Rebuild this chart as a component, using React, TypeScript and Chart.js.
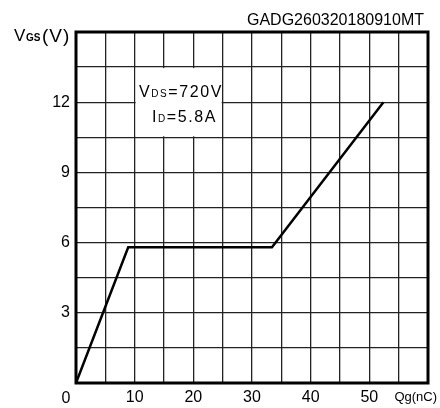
import React, { useEffect, useRef } from "react";
import { Chart, registerables } from "chart.js";

Chart.register(...registerables);

const qg = [0, 8.9, 33.4, 52.4];
const vgs = [0, 5.8, 5.8, 12];
const xTickLabels = [10, 20, 30, 40, 50];
const yTickLabels = [3, 6, 9, 12];
const title = "GADG260320180910MT";

const FONT = "'Liberation Sans', Arial, sans-serif";

const overlay = {
  id: "overlay",
  afterDatasetsDraw(chart: any) {
    const ctx = chart.ctx;
    const a = chart.chartArea;
    const xs = chart.scales.x;
    const ys = chart.scales.y;
    ctx.save();
    // annotation box
    const bx1 = xs.getPixelForValue(10);
    const bx2 = xs.getPixelForValue(25);
    const by1 = ys.getPixelForValue(13.5);
    const by2 = ys.getPixelForValue(10.5);
    ctx.fillStyle = "#fff";
    ctx.fillRect(bx1 + 1, by1 + 1, bx2 - bx1 - 2, by2 - by1 - 2);
    ctx.fillStyle = "#000";
    ctx.textBaseline = "alphabetic";
    ctx.textAlign = "left";
    const drawSub = (
      x: number, y: number, main: string, sub: string, rest: string,
      big = 16, small = 10, restSize = big, spacing = "0px"
    ) => {
      (ctx as any).letterSpacing = spacing;
      ctx.font = `${big}px ${FONT}`;
      ctx.fillText(main, x, y);
      let w = ctx.measureText(main).width;
      ctx.font = `${small}px ${FONT}`;
      ctx.fillText(sub, x + w, y);
      w += ctx.measureText(sub).width;
      ctx.font = `${restSize}px ${FONT}`;
      ctx.fillText(rest, x + w, y);
      (ctx as any).letterSpacing = "0px";
    };
    drawSub(139, 97, "V", "DS", "=720V", 16, 10, 16, "1.6px");
    drawSub(152, 122, "I", "D", "=5.8A", 16, 10, 16, "1.6px");
    // axis title
    ctx.font = `17px ${FONT}`;
    ctx.fillText("V", 14, 41);
    ctx.font = `bold 10px ${FONT}`;
    ctx.fillText("GS", 26, 41);
    ctx.font = `19px ${FONT}`;
    (ctx as any).letterSpacing = "1px";
    ctx.fillText("(V)", 42, 42);
    (ctx as any).letterSpacing = "0px";
    // title
    ctx.font = `16px ${FONT}`;
    ctx.textAlign = "right";
    ctx.fillText(title, 424, 25);
    // zero
    ctx.textAlign = "center";
    ctx.fillText("0", 66, 403);
    // x axis title
    ctx.font = `13px ${FONT}`;
    ctx.textAlign = "right";
    ctx.fillText("Qg(nC)", 437, 401);
    // frame
    ctx.strokeStyle = "#000";
    ctx.lineWidth = 3;
    ctx.strokeRect(a.left, a.top, a.right - a.left, a.bottom - a.top);
    ctx.restore();
  },
};

export default function App() {
  const ref = useRef<HTMLCanvasElement>(null);
  useEffect(() => {
    document.body.style.margin = "0";
    const chart = new Chart(ref.current!, {
      type: "line",
      data: {
        datasets: [
          {
            data: qg.map((x, i) => ({ x, y: vgs[i] })),
            borderColor: "#000",
            borderWidth: 2.5,
            pointRadius: 0,
            tension: 0,
          },
        ],
      },
      options: {
        animation: false,
        responsive: false,
        layout: { padding: { top: 32, right: 12, left: 0, bottom: 0 } },
        plugins: { legend: { display: false }, tooltip: { enabled: false } },
        scales: {
          x: {
            type: "linear",
            min: 0,
            max: 60,
            afterFit: (s: any) => { s.height = 25; },
            ticks: {
              stepSize: 5,
              autoSkip: false,
              maxRotation: 0,
              padding: 5,
              color: "#000",
              font: { size: 16, family: FONT },
              callback: (v: any) => (xTickLabels.includes(Number(v)) ? String(v) : ""),
            },
            grid: { color: "#222", lineWidth: 1.3, drawTicks: false },
            border: { display: false },
          },
          y: {
            min: 0,
            max: 15,
            afterFit: (s: any) => { s.width = 76; },
            ticks: {
              stepSize: 1.5,
              autoSkip: false,
              padding: 6,
              color: "#000",
              font: { size: 16, family: FONT },
              callback: (v: any) => {
                const n = Math.round(Number(v) * 10) / 10;
                return yTickLabels.includes(n) ? String(n) : "";
              },
            },
            grid: { color: "#222", lineWidth: 1.3, drawTicks: false },
            border: { display: false },
          },
        },
      },
      plugins: [overlay],
    });
    return () => chart.destroy();
  }, []);
  return (
    <div style={{ width: 440, height: 408, background: "#fff" }}>
      <canvas ref={ref} width={440} height={408} />
    </div>
  );
}
